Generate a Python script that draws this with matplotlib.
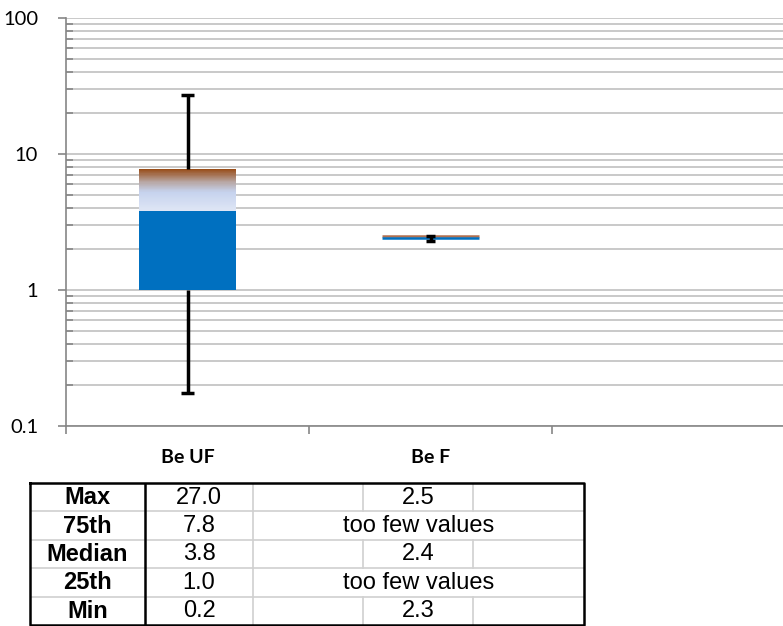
import numpy as np
import matplotlib.pyplot as plt
from matplotlib.colors import LinearSegmentedColormap

# box plot statistics
categories = ["Be UF", "Be F"]
uf_min, uf_q1, uf_med, uf_q3, uf_max = 0.175, 1.0, 3.8, 7.8, 27.0
f_min, f_med, f_max = 2.3, 2.4, 2.5

# table under the chart
row_names = ["Max", "75th", "Median", "25th", "Min"]
uf_text = ["27.0", "7.8", "3.8", "1.0", "0.2"]
f_text = ["2.5", "too few values", "2.4", "too few values", "2.3"]

W, H = 783, 626
fig = plt.figure(figsize=(W / 100, H / 100), dpi=100)
ax = fig.add_axes([66 / W, 1 - 426 / H, 1 - 66 / W, (426 - 18) / H])

ax.set_yscale("log")
ax.set_ylim(0.1, 100)
ax.set_xlim(0.5, 0.5 + 717 / 243)

grid_c = "#c0c0c0"
spine_c = "#868686"
ax.grid(True, which="both", axis="y", color=grid_c, lw=1.2, zorder=0)
ax.set_axisbelow(True)
for s in ["top", "right"]:
    ax.spines[s].set_visible(False)
ax.spines["left"].set_color(spine_c)
ax.spines["bottom"].set_color(spine_c)
ax.spines["left"].set_linewidth(1.2)
ax.spines["bottom"].set_linewidth(1.2)

ax.set_yticks([0.1, 1, 10, 100])
ax.set_yticklabels(["0.1", "1", "10", "100"])
ax.tick_params(axis="y", which="major", direction="out", length=6, color=spine_c,
               width=1.2, labelsize=14.5, pad=14)
ax.tick_params(axis="y", which="minor", direction="in", length=5, color=spine_c,
               width=1.2)
ax.yaxis.set_minor_formatter(plt.NullFormatter())
for lab in ax.get_yticklabels():
    lab.set_fontfamily("Lato")

ax.set_xticks([0.5, 1.5, 2.5])
ax.set_xticklabels([])
ax.tick_params(axis="x", direction="out", length=6, color=spine_c, width=1.2)
for i, name in enumerate(categories):
    ax.text(i + 1, -0.077, name, transform=ax.get_xaxis_transform(), ha="center",
            va="center", fontsize=14, fontweight="bold", family="Lato")

bw = 0.4
# Be UF: lower part solid blue
ax.bar(1, uf_med - uf_q1, bottom=uf_q1, width=bw, color="#0070c0", zorder=3)
# upper part gradient
cmap = LinearSegmentedColormap.from_list(
    "g", [(0, "#dfe6f5"), (0.45, "#c6d3ee"), (0.68, "#b8a8a6"), (1, "#974913")])
n = 80
edges = np.logspace(np.log10(uf_med), np.log10(uf_q3), n + 1)
for k in range(n):
    ax.bar(1, edges[k + 1] - edges[k], bottom=edges[k], width=bw,
           color=cmap((k + 0.5) / n), lw=0, zorder=3)

# whiskers
ax.vlines(1, uf_q3, uf_max, color="black", lw=2.5, zorder=4)
ax.vlines(1, uf_min, uf_q1, color="black", lw=2.5, zorder=4)
ax.hlines([uf_max, uf_min], 1 - 0.028, 1 + 0.028, color="black", lw=2.5, zorder=4)

# Be F
ax.hlines(f_max, 2 - bw / 2, 2 + bw / 2, color="#b07050", lw=1.8, zorder=3)
ax.hlines(f_med, 2 - bw / 2, 2 + bw / 2, color="#0070c0", lw=1.8, zorder=3)
ax.vlines(2, f_min, f_max, color="black", lw=2.5, zorder=4)
ax.hlines([f_max, f_min], 2 - 0.02, 2 + 0.02, color="black", lw=2.5, zorder=4)

# table
tx0, tx1, ty0, ty1 = 30, 584, 483, 626
tax = fig.add_axes([tx0 / W, 1 - ty1 / H, (tx1 - tx0) / W, (ty1 - ty0) / H])
tax.set_xlim(tx0, tx1)
tax.set_ylim(ty1, ty0)
tax.axis("off")
row_h = (625 - 483) / 5
light = "#d0d0d0"
fs = 17
for r in range(5):
    y0 = 483 + r * row_h
    y1 = y0 + row_h
    yc = (y0 + y1) / 2 + 0.5
    if r > 0:
        tax.plot([30, 584], [y0, y0], color=light, lw=1.2, zorder=1)
    tax.plot([253, 253], [y0, y1], color=light, lw=1.2, zorder=1)
    if "too few" not in f_text[r]:
        tax.plot([363, 363], [y0, y1], color=light, lw=1.2, zorder=1)
        tax.plot([473, 473], [y0, y1], color=light, lw=1.2, zorder=1)
        fx = (363 + 473) / 2
    else:
        fx = (253 + 584) / 2
    tax.text((30 + 145) / 2, yc, row_names[r], ha="center", va="center",
             fontsize=fs, fontweight="bold", family="Liberation Sans")
    tax.text((145 + 253) / 2, yc, uf_text[r], ha="center", va="center",
             fontsize=fs, family="Liberation Sans")
    tax.text(fx, yc, f_text[r], ha="center", va="center", fontsize=fs,
             family="Liberation Sans")
tax.plot([145, 145], [483, 625], color="black", lw=1.8, zorder=2)
tax.plot([30, 584, 584, 30, 30], [483, 483, 625, 625, 483], color="black",
         lw=1.8, zorder=2, clip_on=False)

fig.savefig("out.png", dpi=100)
